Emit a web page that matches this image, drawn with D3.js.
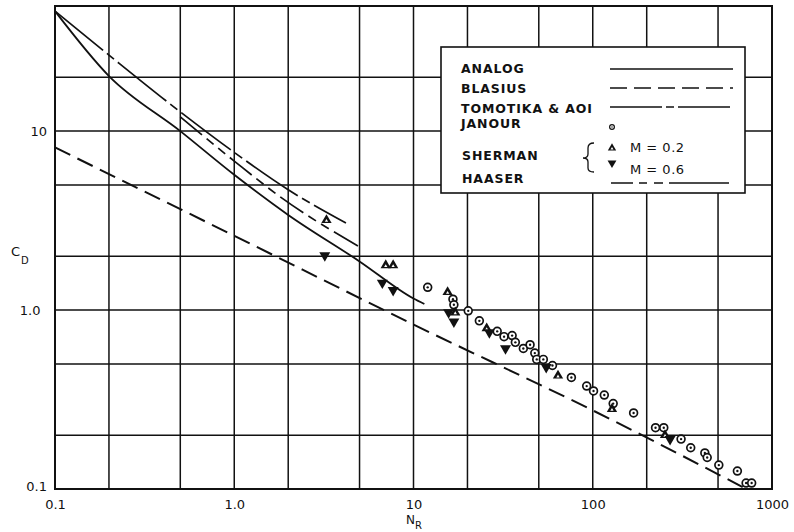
<!DOCTYPE html>
<html>
<head>
<meta charset="utf-8">
<script src="https://cdn.jsdelivr.net/npm/d3@7"></script>
<style>
  body { margin: 0; background: #fff; }
  svg { display: block; }
</style>
</head>
<body>
<svg id="chart" width="794" height="532"></svg>
<script>
// drag coefficient vs N_R
const analog = [[0.1, 46.8], [0.2, 20.3], [0.5, 10], [1, 5.7], [2, 3.4], [5, 1.87], [10, 1.16], [11.5, 1.08]];
const tomotika = [[0.1, 46.8], [0.2, 26.6], [0.5, 12.8], [1, 7.6], [2, 4.7], [4.2, 3.06]];
const haaser = [[0.5, 12.0], [1, 6.8], [1.8, 4.3], [5, 2.25]];
const blasius = [[0.1, 8.1], [1, 2.6], [10, 0.83], [100, 0.275], [720, 0.1]];

const janour = [[12, 1.34], [16.6, 1.15], [16.8, 1.07], [20.2, 0.99], [23.3, 0.87], [29.3, 0.76],
  [32, 0.71], [35.5, 0.72], [37, 0.66], [41, 0.61], [44.7, 0.64], [47.5, 0.575], [48.7, 0.53],
  [53, 0.53], [59.6, 0.49], [76, 0.42], [92.5, 0.376], [101, 0.353], [116, 0.335], [130, 0.30],
  [169, 0.266], [224, 0.22], [249, 0.22], [311, 0.19], [352, 0.17], [422, 0.159], [435, 0.15],
  [505, 0.136], [641, 0.126], [717, 0.108], [770, 0.108]];
const shermanM02 = [[3.27, 3.18], [7.0, 1.78], [7.7, 1.78], [15.5, 1.26], [17.1, 0.97], [25.6, 0.79],
  [64, 0.43], [128, 0.28], [253, 0.2]];
const shermanM06 = [[3.2, 2.02], [6.7, 1.42], [7.7, 1.29], [15.7, 0.97], [16.8, 0.86], [26.5, 0.75],
  [32.6, 0.61], [55, 0.48], [270, 0.19]];

const gridX = [0.1, 0.2, 0.5, 1, 2, 5, 10, 20, 50, 100, 200, 500, 1000];
const gridY = [0.1, 0.2, 0.5, 1, 2, 5, 10, 20, 50];
const xTicks = [0.1, 1, 10, 100, 1000];
const xTickLabels = ["0.1", "1.0", "10", "100", "1000"];
const yTicks = [0.1, 1, 10];
const yTickLabels = ["0.1", "1.0", "10"];

const legendLines = [
  { name: "ANALOG", dash: null },
  { name: "BLASIUS", dash: "17,7" },
  { name: "TOMOTIKA & AOI", dash: "52,4,8,4" },
];

const svg = d3.select("#chart");
const plotL = 55, plotR = 772, plotT = 6, plotB = 489;

const x = d3.scaleLog().domain([0.1, 1000]).range([plotL, plotR]);
const y = d3.scaleLog().domain([0.1, 50]).range([plotB, plotT]);

// grid
const grid = svg.append("g").attr("stroke", "#111").attr("stroke-width", 1.5);
grid.selectAll("line.v").data(gridX).enter().append("line")
  .attr("x1", d => x(d)).attr("x2", d => x(d))
  .attr("y1", plotT).attr("y2", plotB);
grid.selectAll("line.h").data(gridY).enter().append("line")
  .attr("x1", plotL).attr("x2", plotR)
  .attr("y1", d => y(d)).attr("y2", d => y(d));
svg.append("rect")
  .attr("x", plotL).attr("y", plotT)
  .attr("width", plotR - plotL).attr("height", plotB - plotT)
  .attr("fill", "none").attr("stroke", "#111").attr("stroke-width", 2);

// tick labels
const xAxis = svg.append("g")
  .attr("transform", `translate(0,${plotB})`)
  .call(d3.axisBottom(x).tickValues(xTicks).tickSize(0).tickPadding(11)
    .tickFormat((d, i) => xTickLabels[i]));
const yAxis = svg.append("g")
  .attr("transform", `translate(${plotL},0)`)
  .call(d3.axisLeft(y).tickValues(yTicks).tickSize(0).tickPadding(8)
    .tickFormat((d, i) => yTickLabels[i]));
[xAxis, yAxis].forEach(a => {
  a.select(".domain").remove();
  a.selectAll("text")
    .attr("font-family", "DejaVu Sans, sans-serif")
    .attr("font-size", 13)
    .attr("fill", "#111");
});
yAxis.selectAll("text").filter(d => d === 0.1).attr("dy", "0.1em");
yAxis.selectAll("text").filter(d => d === 1).attr("dx", "-0.5em");

// axis titles
const title = svg.append("g").attr("font-family", "DejaVu Sans, sans-serif").attr("fill", "#111");
title.append("text").attr("x", 11).attr("y", 256).attr("font-size", 13).text("C");
title.append("text").attr("x", 21).attr("y", 264).attr("font-size", 10).text("D");
title.append("text").attr("x", 406).attr("y", 524).attr("font-size", 12).text("N");
title.append("text").attr("x", 415).attr("y", 529).attr("font-size", 10).text("R");

// curves
const line = d3.line()
  .x(d => x(d[0]))
  .y(d => y(d[1]))
  .curve(d3.curveMonotoneX);

const curves = svg.append("g").attr("fill", "none").attr("stroke", "#111");
curves.append("path").datum(blasius).attr("d", line)
  .attr("stroke-width", 2).attr("stroke-dasharray", "17,8");
curves.append("path").datum(tomotika).attr("d", line)
  .attr("stroke-width", 1.7).attr("stroke-dasharray", "62,5,9,5");
curves.append("path").datum(haaser).attr("d", line)
  .attr("stroke-width", 1.7).attr("stroke-dasharray", "28,6,9,6,9,6");
curves.append("path").datum(analog).attr("d", line)
  .attr("stroke-width", 1.8);

// markers
const tri = d3.symbol().type(d3.symbolTriangle);

function drawCircles(g, data, r) {
  const c = g.selectAll(null).data(data).enter().append("g")
    .attr("transform", d => `translate(${x(d[0])},${y(d[1])})`);
  c.append("circle").attr("r", r).attr("fill", "#fff").attr("stroke", "#111").attr("stroke-width", 1.7);
  c.append("circle").attr("r", r * 0.3).attr("fill", "#111");
}
function drawUp(g, data, size) {
  const t = g.selectAll(null).data(data).enter().append("g")
    .attr("transform", d => `translate(${x(d[0])},${y(d[1])})`);
  t.append("path").attr("d", tri.size(size)()).attr("fill", "#111");
  t.append("path").attr("d", tri.size(size * 0.1)()).attr("fill", "#fff")
    .attr("transform", "translate(0,0.8)");
}
function drawDown(g, data, size) {
  g.selectAll(null).data(data).enter().append("path")
    .attr("d", tri.size(size)())
    .attr("transform", d => `translate(${x(d[0])},${y(d[1])}) rotate(180)`)
    .attr("fill", "#111");
}

const marks = svg.append("g");
drawCircles(marks, janour, 3.9);
drawUp(marks, shermanM02, 46);
drawDown(marks, shermanM06, 52);

// legend
const lg = svg.append("g").attr("font-family", "DejaVu Sans, sans-serif").attr("fill", "#111");
lg.append("rect").attr("x", 441).attr("y", 47).attr("width", 304).attr("height", 146)
  .attr("fill", "#fff").attr("stroke", "#111").attr("stroke-width", 1.6);

const textStyle = s => s.attr("font-size", 12.5).attr("font-weight", "bold").attr("letter-spacing", 0.9);

const lineRows = [73, 93, 113];
const lineYs = [69, 88, 107];
legendLines.forEach((l, i) => {
  lg.append("text").attr("x", 461).attr("y", lineRows[i]).call(textStyle).text(l.name);
  lg.append("line").attr("x1", 610).attr("x2", 733).attr("y1", lineYs[i]).attr("y2", lineYs[i])
    .attr("stroke", "#111").attr("stroke-width", 1.7)
    .attr("stroke-dasharray", l.dash);
});
lg.append("text").attr("x", 461).attr("y", 128).call(textStyle).text("JANOUR");
lg.append("text").attr("x", 462).attr("y", 160).call(textStyle).text("SHERMAN");
lg.append("text").attr("x", 462).attr("y", 183).call(textStyle).text("HAASER");
lg.append("line").attr("x1", 611).attr("x2", 733).attr("y1", 183).attr("y2", 183)
  .attr("stroke", "#111").attr("stroke-width", 1.7).attr("stroke-dasharray", "22,6,8,7,9,6,60");

const lgJ = lg.append("g").attr("transform", "translate(612,127)");
lgJ.append("circle").attr("r", 2.4).attr("fill", "#fff").attr("stroke", "#111").attr("stroke-width", 1.2);
lgJ.append("circle").attr("r", 0.7).attr("fill", "#111");

const lgUp = lg.append("g").attr("transform", "translate(612,148)");
lgUp.append("path").attr("d", tri.size(30)()).attr("fill", "#111");
lgUp.append("path").attr("d", tri.size(4)()).attr("fill", "#fff").attr("transform", "translate(0,0.7)");
lg.append("path").attr("d", tri.size(34)()).attr("fill", "#111")
  .attr("transform", "translate(612,163) rotate(180)");

lg.append("path")
  .attr("d", "M594,143 Q588,143 588,148 L588,154 Q588,158 583,158 Q588,158 588,162 L588,168 Q588,172 594,172")
  .attr("fill", "none").attr("stroke", "#111").attr("stroke-width", 1.3);

lg.append("text").attr("x", 630).attr("y", 152).attr("font-size", 13).attr("letter-spacing", 0.5).text("M = 0.2");
lg.append("text").attr("x", 630).attr("y", 174).attr("font-size", 13).attr("letter-spacing", 0.5).text("M = 0.6");
</script>
</body>
</html>
